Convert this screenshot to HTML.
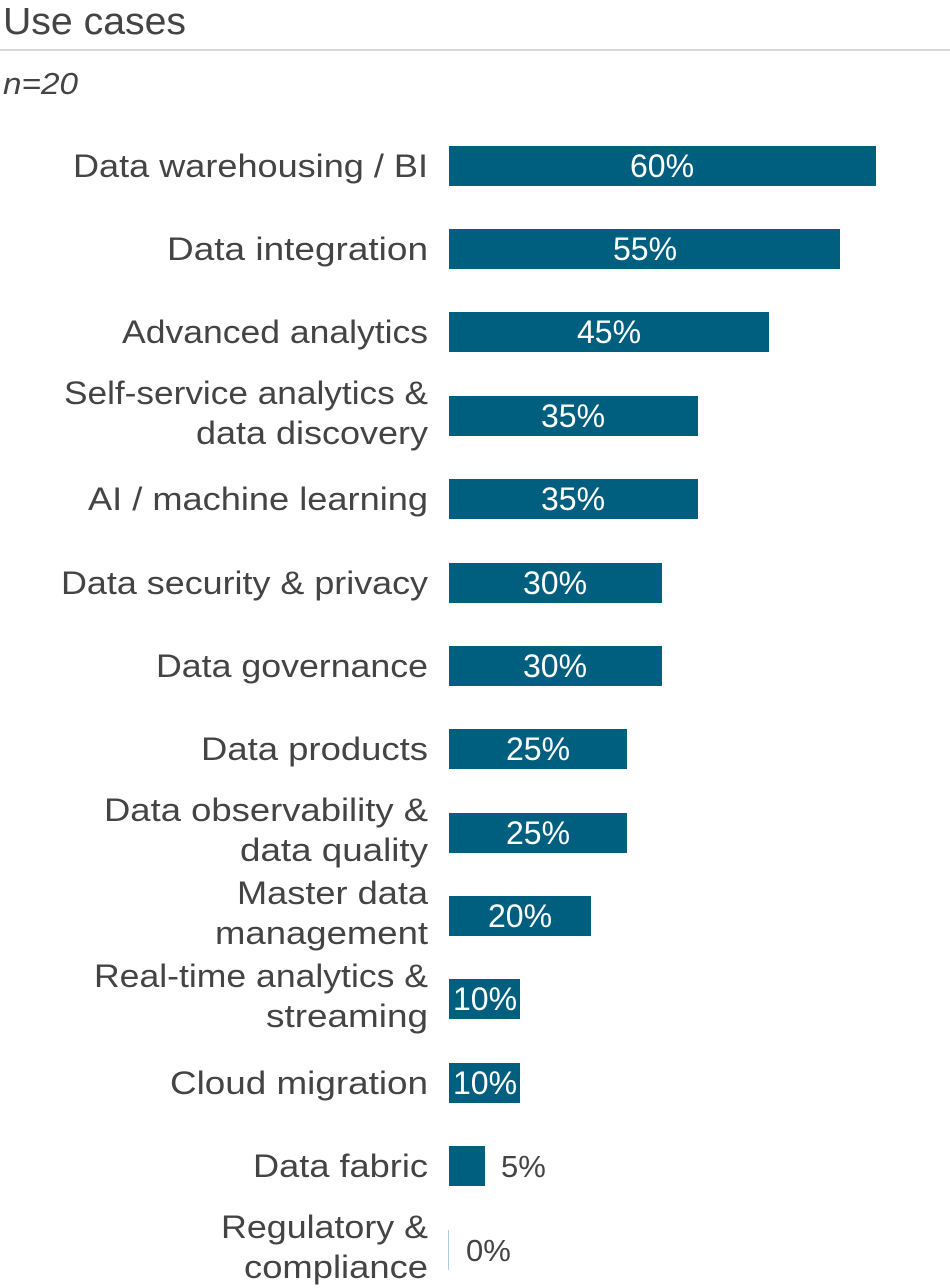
<!DOCTYPE html>
<html><head><meta charset="utf-8"><style>
html,body{margin:0;padding:0;background:#fff;width:950px;height:1288px;overflow:hidden}
svg{display:block;font-family:"Liberation Sans",sans-serif}
</style></head><body>
<svg width="950" height="1288" xmlns="http://www.w3.org/2000/svg">
<text x="3" y="34" font-size="38" fill="#444" textLength="183" lengthAdjust="spacingAndGlyphs">Use cases</text>
<rect x="0" y="49" width="950" height="2" fill="#d9d9d9"/>
<text x="3" y="94" font-size="31" font-style="italic" fill="#444" textLength="75" lengthAdjust="spacingAndGlyphs">n=20</text>
<g font-size="32" fill="#444">
<text lengthAdjust="spacingAndGlyphs" x="73" y="177" textLength="355">Data warehousing / BI</text>
<text lengthAdjust="spacingAndGlyphs" x="167" y="260" textLength="261">Data integration</text>
<text lengthAdjust="spacingAndGlyphs" x="122" y="343" textLength="306">Advanced analytics</text>
<text lengthAdjust="spacingAndGlyphs" x="64" y="404" textLength="364">Self-service analytics &amp;</text>
<text lengthAdjust="spacingAndGlyphs" x="196" y="444" textLength="232">data discovery</text>
<text lengthAdjust="spacingAndGlyphs" x="88" y="510" textLength="340">AI / machine learning</text>
<text lengthAdjust="spacingAndGlyphs" x="61" y="594" textLength="367">Data security &amp; privacy</text>
<text lengthAdjust="spacingAndGlyphs" x="156" y="677" textLength="272">Data governance</text>
<text lengthAdjust="spacingAndGlyphs" x="201" y="760" textLength="227">Data products</text>
<text lengthAdjust="spacingAndGlyphs" x="104" y="821" textLength="324">Data observability &amp;</text>
<text lengthAdjust="spacingAndGlyphs" x="240" y="861" textLength="188">data quality</text>
<text lengthAdjust="spacingAndGlyphs" x="237" y="904" textLength="191">Master data</text>
<text lengthAdjust="spacingAndGlyphs" x="215" y="944" textLength="213">management</text>
<text lengthAdjust="spacingAndGlyphs" x="94" y="987" textLength="334">Real-time analytics &amp;</text>
<text lengthAdjust="spacingAndGlyphs" x="266" y="1027" textLength="162">streaming</text>
<text lengthAdjust="spacingAndGlyphs" x="170" y="1094" textLength="258">Cloud migration</text>
<text lengthAdjust="spacingAndGlyphs" x="253" y="1177" textLength="175">Data fabric</text>
<text lengthAdjust="spacingAndGlyphs" x="221" y="1238" textLength="207">Regulatory &amp;</text>
<text lengthAdjust="spacingAndGlyphs" x="244" y="1278" textLength="184">compliance</text>
</g>
<g fill="#005f7f">
<rect x="449" y="146" width="427" height="40"/>
<rect x="449" y="229" width="391" height="40"/>
<rect x="449" y="312" width="320" height="40"/>
<rect x="449" y="396" width="249" height="40"/>
<rect x="449" y="479" width="249" height="40"/>
<rect x="449" y="563" width="213" height="40"/>
<rect x="449" y="646" width="213" height="40"/>
<rect x="449" y="729" width="178" height="40"/>
<rect x="449" y="813" width="178" height="40"/>
<rect x="449" y="896" width="142" height="40"/>
<rect x="449" y="979" width="71" height="40"/>
<rect x="449" y="1063" width="71" height="40"/>
<rect x="449" y="1146" width="36" height="40"/>
</g>
<rect x="448" y="1230" width="1" height="40" fill="#a8d0dc"/>
<g font-size="32" fill="#fff" text-anchor="middle">
<text x="662" y="177">60%</text>
<text x="645" y="260">55%</text>
<text x="609" y="343">45%</text>
<text x="573" y="427">35%</text>
<text x="573" y="510">35%</text>
<text x="555" y="594">30%</text>
<text x="555" y="677">30%</text>
<text x="538" y="760">25%</text>
<text x="538" y="844">25%</text>
<text x="520" y="927">20%</text>
<text x="485" y="1010">10%</text>
<text x="485" y="1094">10%</text>
</g>
<g font-size="31" fill="#444">
<text x="501" y="1177">5%</text>
<text x="466" y="1261">0%</text>
</g>
</svg>
</body></html>
